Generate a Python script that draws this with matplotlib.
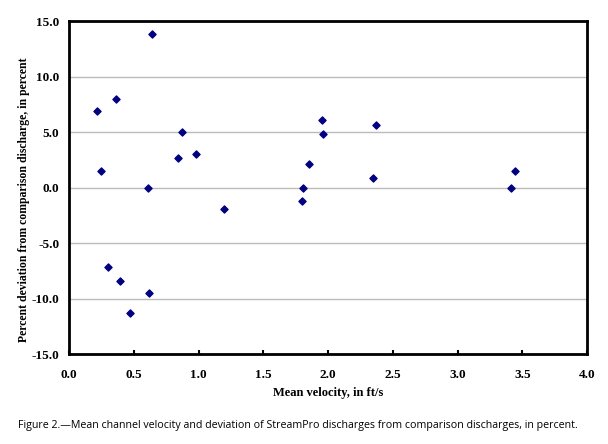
import matplotlib.pyplot as plt

# mean velocity (ft/s) and percent deviation
velocity = [0.22, 0.25, 0.30, 0.36, 0.39, 0.47, 0.61, 0.62, 0.64, 0.84, 0.87, 0.98,
            1.20, 1.80, 1.81, 1.85, 1.95, 1.96, 2.35, 2.37, 3.41, 3.44]
deviation = [6.9, 1.5, -7.2, 8.0, -8.4, -11.3, 0.0, -9.5, 13.8, 2.7, 5.0, 3.0,
             -1.9, -1.2, 0.0, 2.1, 6.1, 4.8, 0.9, 5.6, 0.0, 1.5]

x_ticks = [0.0, 0.5, 1.0, 1.5, 2.0, 2.5, 3.0, 3.5, 4.0]
y_ticks = [-15.0, -10.0, -5.0, 0.0, 5.0, 10.0, 15.0]

fig = plt.figure(figsize=(6.08, 4.44), dpi=100)
ax = fig.add_axes([0.1135, 0.2027, 0.852, 0.75])

ax.scatter(velocity, deviation, marker='D', s=13, color='#000080', zorder=3)

ax.set_xlim(0, 4)
ax.set_ylim(-15, 15)
ax.set_xticks(x_ticks)
ax.set_yticks(y_ticks)
ax.set_xticklabels([f'{t:.1f}' for t in x_ticks], fontfamily='Liberation Serif',
                   fontweight='bold', fontsize=9.5)
ax.set_yticklabels([f'{t:.1f}' for t in y_ticks], fontfamily='Liberation Serif',
                   fontweight='bold', fontsize=9.5)
ax.tick_params(axis='x', direction='in', length=3, width=1.5, pad=11)
ax.tick_params(axis='y', length=0, pad=7)
ax.yaxis.grid(True, color='#bbbbbb', linewidth=1)
ax.set_axisbelow(True)
for s in ax.spines.values():
    s.set_linewidth(2)

ax.set_xlabel('Mean velocity, in ft/s', fontfamily='Liberation Serif',
              fontweight='bold', fontsize=9, labelpad=4)
ax.set_ylabel('Percent deviation from comparison discharge, in percent',
              fontfamily='Liberation Serif', fontweight='bold', fontsize=8.5)
ax.yaxis.set_label_coords(-0.075, 0.463)

fig.text(0.03, 0.036, 'Figure 2.\u2014Mean channel velocity and deviation of StreamPro discharges '
         'from comparison discharges, in percent.', fontfamily='Open Sans', fontsize=7.7)

fig.savefig('out.png', dpi=100)
